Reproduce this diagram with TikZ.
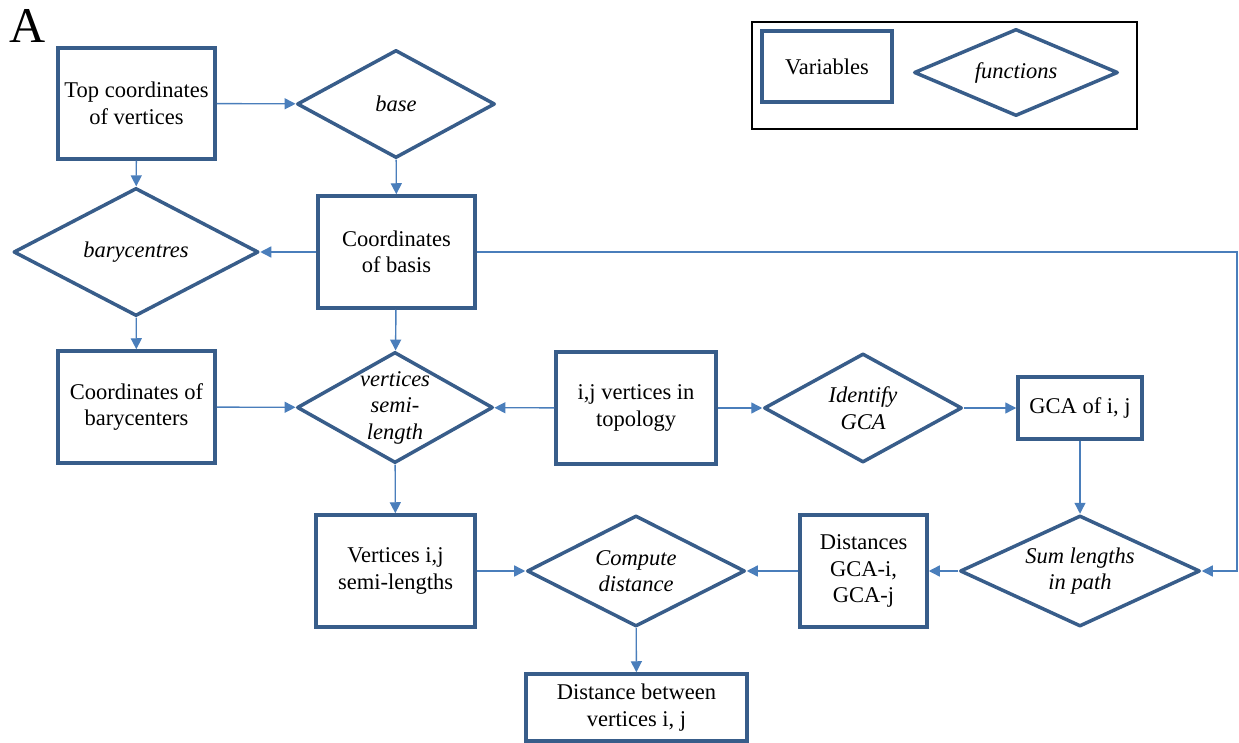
\documentclass[tikz,border=0pt]{standalone}
\usepackage{fontspec}
\setmainfont{Liberation Serif}
\usetikzlibrary{shapes.geometric,arrows.meta}
\definecolor{boxblue}{RGB}{56,93,138}
\definecolor{lineblue}{RGB}{74,126,187}
\begin{document}
\begin{tikzpicture}[x=1pt,y=-1pt,font=\fontsize{22.5}{26.5}\selectfont,>={Triangle[length=11pt,width=11pt]},
  var/.style={draw=boxblue,line width=3.5pt,rectangle,align=center,inner sep=2pt},
  fn/.style={draw=boxblue,line width=3.5pt,diamond,line join=round,align=center,inner sep=-30pt,font=\fontsize{22.5}{26.5}\selectfont\itshape},
  link/.style={draw=lineblue,line width=1.4pt,->}]
\useasboundingbox (0,0) rectangle (1239,743);
\node[anchor=base west,inner sep=0pt,font=\fontsize{50}{50}\selectfont] (lbl) at (9,43) {A};
% legend
\draw[line width=1.2pt] (752,22) rectangle (1137,129);
\node[var,minimum width=130,minimum height=71] (legvar) at (827,66.5) {Variables};
\node[fn,minimum width=204,minimum height=87] (legfn) at (1016,72.5) {functions};
% variables
\node[var,minimum width=157,minimum height=111] (top) at (136.5,103.5) {Top coordinates\\of vertices};
\node[var,minimum width=157,minimum height=112] (basis) at (396.5,252) {Coordinates\\of basis};
\node[var,minimum width=157,minimum height=112] (bcent) at (136.5,407) {Coordinates of\\barycenters};
\node[var,minimum width=160,minimum height=112] (topo) at (636,408) {i,j vertices in\\topology};
\node[var,minimum width=124,minimum height=62] (gca) at (1080,408) {GCA of i, j};
\node[var,minimum width=159,minimum height=112] (semi) at (395.5,571) {Vertices i,j\\semi-lengths};
\node[var,minimum width=127,minimum height=112] (dgca) at (863.5,571) {Distances\\GCA-i,\\GCA-j};
\node[var,minimum width=221,minimum height=67] (dist) at (636.5,707.5) {Distance between\\vertices i, j};
% functions
\node[fn,minimum width=198,minimum height=108] (base) at (396,104) {base};
\node[fn,minimum width=245,minimum height=128] (bary) at (136,252) {barycentres};
\node[fn,minimum width=196,minimum height=111] (vsl) at (395,407.5) {vertices\\semi-\\length};
\node[fn,minimum width=198,minimum height=109] (ident) at (863,408) {Identify\\GCA};
\node[fn,minimum width=240,minimum height=111] (sum) at (1080,571) {Sum lengths\\in path};
\node[fn,minimum width=218,minimum height=111] (comp) at (636,571) {Compute\\distance};
\coordinate (loop) at (1237,252);
% connectors
\draw[link] (top) -- (base);
\draw[link] (top) -- (bary);
\draw[link] (base) -- (basis);
\draw[link] (basis) -- (bary);
\draw[link] (bary) -- (bcent);
\draw[link] (basis) -- (vsl);
\draw[link] (bcent) -- (vsl);
\draw[link] (topo) -- (vsl);
\draw[link] (topo) -- (ident);
\draw[link] (ident) -- (gca);
\draw[link] (gca) -- (sum);
\draw[link] (basis.east) -- (loop) |- (sum.east);
\draw[link] (sum) -- (dgca);
\draw[link] (dgca) -- (comp);
\draw[link] (vsl) -- (semi);
\draw[link] (semi) -- (comp);
\draw[link] (comp) -- (dist);
\end{tikzpicture}
\end{document}
